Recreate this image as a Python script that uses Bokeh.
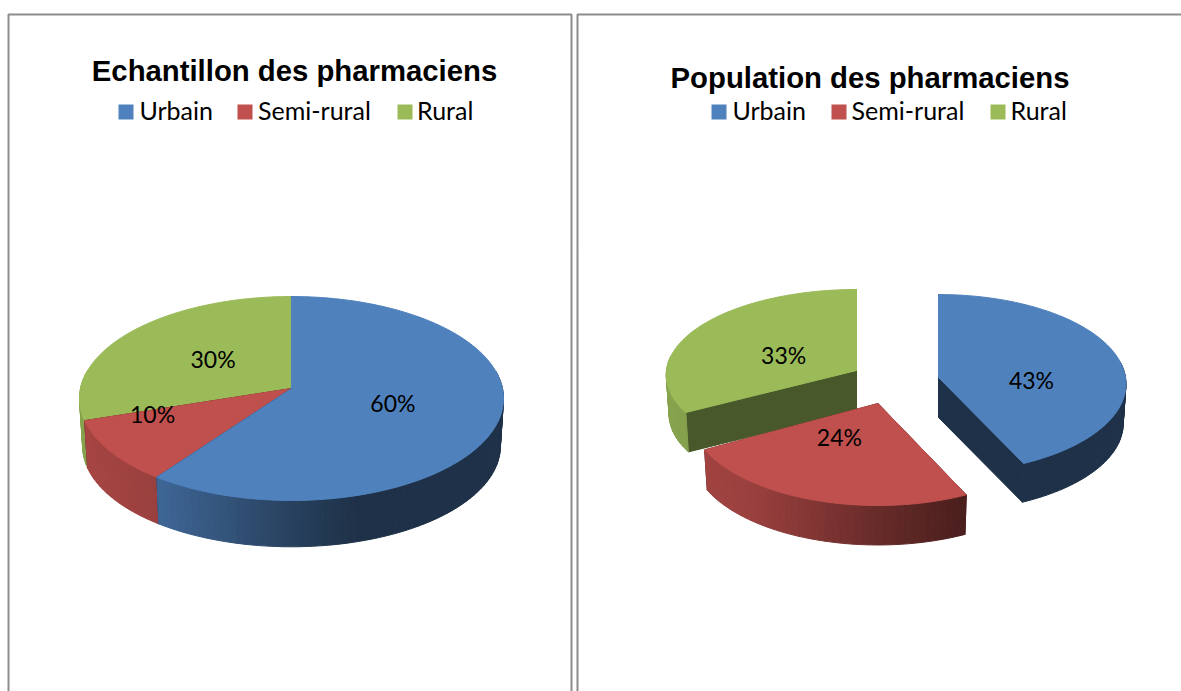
import math
import numpy as np
from bokeh.core.properties import value
from bokeh.embed import file_html
from bokeh.models import ColumnDataSource, Range1d
from bokeh.plotting import figure
from bokeh.resources import INLINE

# ---- data ----
categories = ["Urbain", "Semi-rural", "Rural"]
echantillon = [60, 10, 30]
population = [43, 24, 33]
title_left = "Echantillon des pharmaciens"
title_right = "Population des pharmaciens"

# ---- style ----
COLORS = [(79, 129, 189), (192, 80, 77), (155, 187, 89)]
FACE = [0.38, 0.40, 0.47]
BORDER = "#8c8c8c"
W, H = 1181, 691


def hexc(rgb, f=1.0):
    return "#%02x%02x%02x" % tuple(int(round(c * f)) for c in rgb)


def shade(n):
    return float(np.interp(n, [0, 0.18, 0.5, 0.65, 1], [0.87, 0.8, 0.5, 0.38, 0.38]))


class Pie:
    """Oblique view of a disc: C wide, P deep, k perspective, d wall height, s far-side scale."""

    def __init__(self, C, P, k, d, s, xmin, xmax):
        self.C, self.P, self.k, self.d, self.s = C, P, k, d, s
        self.xmin, self.xmax = xmin, xmax

    def top(self, apex, t, r=1.0):
        a = math.radians(t)
        X, Y = r * math.sin(a), r * math.cos(a)
        q = 1 + self.k * Y
        return apex[0] + self.C * X / q, apex[1] - self.P * Y / q

    def bottom(self, apex, t, r=1.0):
        x, y = self.top(apex, t, r)
        return (
            apex[0] + (x - apex[0]) * self.s,
            apex[1] + self.d + (y - apex[1]) * self.s,
        )


p = figure(
    width=W, height=H, output_backend="svg", toolbar_location=None,
    x_range=Range1d(0, W), y_range=Range1d(H, 0),
    min_border=0, tools="",
)
p.axis.visible = False
p.grid.visible = False
p.outline_line_color = None
p.background_fill_color = "white"


def add_patches(xs, ys, colors):
    src = ColumnDataSource(dict(xs=xs, ys=ys, c=colors))
    p.patches("xs", "ys", source=src, fill_color="c", line_color="c", line_width=1)


def draw_slice(pie, apex, t0, t1, idx):
    base = COLORS[idx]
    # cut faces
    xs, ys, cs = [], [], []
    for t in (t0, t1):
        a, b = pie.top(apex, t), pie.bottom(apex, t)
        bot_apex = (apex[0], apex[1] + pie.d)
        xs.append([apex[0], a[0], b[0], bot_apex[0]])
        ys.append([apex[1], a[1], b[1], bot_apex[1]])
        cs.append(hexc(base, FACE[idx]))
    add_patches(xs, ys, cs)
    # outer wall, lit according to its position across the pie
    lo, hi = max(t0, 80), min(t1, 280)
    if hi > lo:
        xs, ys, cs = [], [], []
        grid = np.linspace(lo, hi, max(2, int((hi - lo) / 2) + 1))
        for u, v in zip(grid[:-1], grid[1:]):
            a, b, c, e = pie.top(apex, u), pie.top(apex, v), pie.bottom(apex, v), pie.bottom(apex, u)
            xs.append([a[0], b[0], c[0], e[0]])
            ys.append([a[1], b[1], c[1], e[1]])
            n = ((a[0] + b[0]) / 2 - pie.xmin) / (pie.xmax - pie.xmin)
            cs.append(hexc(base, shade(n)))
        add_patches(xs, ys, cs)
    # top face
    pts = [apex] + [pie.top(apex, t) for t in np.linspace(t0, t1, int(t1 - t0) + 2)]
    add_patches([[q[0] for q in pts]], [[q[1] for q in pts]], [hexc(base)])


def draw_pie(pies, apexes, vals, order, label_tweak):
    total = sum(vals)
    bounds = np.cumsum([0] + list(vals)) / total * 360
    for i in order:
        draw_slice(pies[i], apexes[i], float(bounds[i]), float(bounds[i + 1]), i)
    lx, ly, lt = [], [], []
    for i, v in enumerate(vals):
        dt, r = label_tweak[i]
        x, y = pies[i].top(apexes[i], (bounds[i] + bounds[i + 1]) / 2 + dt, r)
        lx.append(x - 0.5)
        ly.append(y - 1)
        lt.append(f"{v}%")
    p.text(lx, ly, text=lt, text_font=value("Lato"), text_font_size="23px", text_color="black",
           text_align="center", text_baseline="middle")


def draw_head(title, tx, ty, swatches, labels):
    p.text([tx], [ty], text=[title], text_font=value("Liberation Sans"), text_font_style="bold",
           text_font_size="29.3px", text_color="black", text_align="center", text_baseline="middle")
    for i, name in enumerate(categories):
        p.quad(left=[swatches[i]], right=[swatches[i] + 15], top=[104], bottom=[119],
               fill_color=hexc(COLORS[i]), line_color=None)
    p.text(labels, [109] * 3, text=categories, text_font=value("Lato"), text_font_size="25px",
           text_color="black", text_align="left", text_baseline="middle")


# panel frames (open at the bottom, like the cropped page)
p.line([8, 8, 571, 571], [691, 14, 14, 691], line_color=BORDER, line_width=2)
p.line([577, 577, 1181], [691, 14, 14], line_color=BORDER, line_width=2)

left_pie = Pie(211, 101, 0.098, 48, 0.985, 79, 503)
draw_pie([left_pie] * 3, [(291, 388)] * 3, echantillon, [2, 1, 0], [(0, 0.5), (14, 0.69), (0.9, 0.475)])

right_pies = [
    Pie(187, 88.9, 0.0713, 40, 0.985, 668, 1125),
    Pie(188, 91.5, 0.103, 41, 0.985, 668, 1125),
    Pie(190, 85.1, 0.0507, 40, 0.985, 668, 1125),
]
right_apex = [(938, 377), (877.5, 403), (856, 370)]
draw_pie(right_pies, right_apex, population, [2, 0, 1], [(17.6, 0.5), (10.6, 0.408), (-7, 0.419)])

draw_head(title_left, 294, 70, [118, 237, 397], [139, 257.5, 416.5])
draw_head(title_right, 869.5, 77, [711, 831, 990], [732, 851, 1010])

open("out.html", "w").write(file_html(p, INLINE))
